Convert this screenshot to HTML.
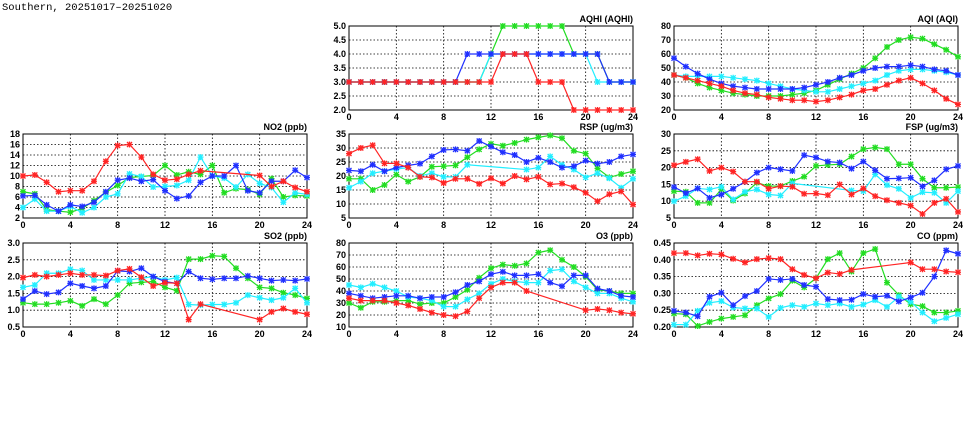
<!DOCTYPE html>
<html><head><meta charset="utf-8"><style>
html,body{margin:0;padding:0;background:#fff;width:975px;height:447px;overflow:hidden}
svg{display:block}
text{font-family:"Liberation Sans",sans-serif;font-weight:bold;font-size:9px;fill:#000}
</style></head><body>
<svg id="s" width="975" height="447" xmlns="http://www.w3.org/2000/svg">
<text x="2" y="10" style="font-family:'Liberation Mono',monospace;font-size:10.5px;font-weight:normal">Southern, 20251017–20251020</text>
</svg>
<script>
const N=null;
const C={r:"#ff2424",g:"#22dd22",c:"#22eeff",b:"#2030ff"};
const panels=[
{t:"AQHI (AQHI)",x:349,y:26,min:2,max:5,st:0.5,dec:1,d:{
g:[3,3,3,3,3,3,3,3,3,3,3,3,4,5,5,5,5,5,5,4,4,4,3,3,3],
c:[3,3,3,3,3,3,3,3,3,3,3,3,4,4,4,4,4,4,4,4,4,3,3,3,3],
b:[3,3,3,3,3,3,3,3,3,3,4,4,4,4,4,4,4,4,4,4,4,4,3,3,3],
r:[3,3,3,3,3,3,3,3,3,3,3,3,3,4,4,4,3,3,3,2,2,2,2,2,2]}},
{t:"AQI (AQI)",x:674,y:26,min:20,max:80,st:10,dec:0,d:{
g:[45,43,39,36,34,32,31,30,30,30,31,32,34,38,42,46,50,57,65,70,72,71,67,63,58],
c:[45,44,44,44,44,43,42,41,39,37,35,34,33,33,35,37,39,41,45,48,49,49,48,47,45],
b:[57,51,46,42,39,37,36,35,35,35,35,36,38,40,43,45,48,50,51,51,52,51,49,48,45],
r:[45,43,41,39,37,34,32,31,29,28,27,27,26,27,29,31,34,35,38,41,43,39,34,28,24]}},
{t:"NO2 (ppb)",x:23,y:134,min:2,max:18,st:2,dec:0,d:{
g:[7,6.6,3.6,3.3,3.1,3.8,5.3,6.9,8.2,9.7,9.9,10.1,12,10.2,10.8,10.3,12,6.8,7.6,7.4,6.5,9.5,6,6.3,6.2],
c:[4,5.6,3.3,3.3,4.2,3,4,6,6.6,10.4,9.9,7.9,8,8.2,9.2,13.6,10,9.6,7.9,10.3,8.6,7.8,5,6.8,6.5],
b:[6.2,6.3,4.5,3.3,4.5,4.2,5,7,9.2,9.6,9,9.3,7.2,5.7,6.2,8.8,10,10,12,7.2,6.8,9,9,11.1,9.7],
r:[10,10.2,8.8,7,7.2,7.2,9,12.8,15.8,16,13.6,10.3,9.2,9.4,10.3,11,N,N,N,N,10.1,8,9,7.8,7]}},
{t:"RSP (ug/m3)",x:349,y:134,min:5,max:35,st:5,dec:0,d:{
g:[19,19,15,16.8,20.5,18,19.7,23.3,23.5,23.8,26.7,29.5,31.5,30.8,31.8,33,33.8,34.5,33.5,29,28,22.7,19.5,20.7,21.7],
c:[15.8,18,21,21.7,22.5,23,20,21,19.7,19.7,24,N,N,N,N,22.3,23,27,24,22.3,19.5,21,19.2,15.8,19],
b:[22,21.7,24,21.7,23,23.8,24.4,27,29.3,29.5,29,32.5,30.5,28.5,27.5,25,26.5,25,23,23.5,25.5,24.4,25,27,27.7],
r:[28,30,31,24.5,24.5,23,19.7,19.5,17.5,19,19,17.2,19.2,17.3,20,18.8,19.7,17,17.3,16,14,11,13.5,14.5,9.8]}},
{t:"FSP (ug/m3)",x:674,y:134,min:5,max:30,st:5,dec:0,d:{
g:[13,12.8,9.5,9.5,13.5,10.2,12.3,15.5,14.5,14.5,16,17.3,20.5,20.8,21,23.3,25.5,26,25.5,21,21,16.7,14,14,14.2],
c:[10,11.5,13.8,13.5,14.3,10.5,12.8,13.5,12,11.7,15.3,N,N,N,N,13.2,13,18,14.8,13.7,11,12.7,12.5,9.5,13],
b:[14.2,12.4,13.8,11,12,13.7,15.8,18.5,20,19.5,19,23.7,23,21.8,21.5,19.7,21.8,19.2,16.7,16.8,17,14.4,16.2,19.5,20.5],
r:[20.7,21.7,22.5,19,20,18.8,15.8,15.8,13.7,14.5,14.3,12.2,12.3,11.8,15,12,13.8,11.5,10.3,9.5,8.7,6.2,9.5,10.7,6.8]}},
{t:"SO2 (ppb)",x:23,y:243,min:0.5,max:3,st:0.5,dec:1,d:{
g:[1.22,1.18,1.18,1.22,1.28,1.13,1.33,1.18,1.45,1.8,1.83,1.85,1.68,1.58,2.52,2.52,2.62,2.6,2.25,1.95,1.68,1.65,1.52,1.45,1.35],
c:[1.68,1.75,2.1,2.1,2.22,2.18,1.9,1.9,1.9,1.9,1.95,2.0,1.9,1.97,1.17,1.15,1.17,1.17,1.22,1.45,1.37,1.3,1.37,1.65,1.22],
b:[1.33,1.57,1.48,1.53,1.8,1.72,1.65,1.72,2.17,2.15,2.25,2.0,1.85,1.8,2.15,1.95,1.92,1.95,1.95,2.02,1.95,1.88,1.9,1.88,1.93],
r:[1.97,2.05,2.0,2.05,2.1,2.05,2.05,2.03,2.18,2.23,1.98,1.72,1.82,1.8,0.72,1.18,N,N,N,N,0.72,0.95,1.05,0.95,0.88]}},
{t:"O3 (ppb)",x:349,y:243,min:10,max:80,st:10,dec:0,d:{
g:[30,26,31,31,32,32,29,30,30,35,41,51,59,62,61,63,72,74,66,60,52,41,40,38,38],
c:[45,43,46,43,40,35,34,32,27,27,33,38,46,50,48,47,47,57,58,48,43,38,38,34,31],
b:[38,36,34,35,36,36,34,35,35,39,45,48,54,56,53,53,54,47,44,53,53,42,40,36,35],
r:[34,32,32,32,30,28,25,22,20,19,23,34,43,47,47,40,N,N,N,N,24,25,24,22,21]}},
{t:"CO (ppm)",x:674,y:243,min:0.2,max:0.45,st:0.05,dec:2,d:{
g:[.24,.238,.203,.215,.225,.23,.235,.265,.285,.298,.338,.318,.345,.402,.42,.365,.42,.432,.332,.295,.268,.262,.243,.243,.248],
c:[.207,.207,.248,.272,.277,.258,.255,.255,.23,.257,.265,.26,.27,.265,.27,.26,.267,.28,.26,.29,.275,.243,.217,.227,.238],
b:[.248,.243,.232,.29,.302,.265,.292,.307,.343,.34,.343,.325,.32,.283,.28,.281,.298,.29,.293,.276,.288,.302,.35,.428,.418],
r:[.42,.42,.413,.418,.416,.403,.392,.402,.405,.402,.372,.355,.345,.362,.358,.37,N,N,N,N,.392,.372,.372,.365,.363]}}
];
const W=284,H=84;let s="";
for(const p of panels){
 const X=i=>p.x+i*W/24, Y=v=>p.y+H-(v-p.min)/(p.max-p.min)*H;
 s+=`<rect x="${p.x}" y="${p.y}" width="${W}" height="${H}" fill="#fff" stroke="#000" stroke-width="1"/>`;
 const n=Math.round((p.max-p.min)/p.st);
 for(let k=0;k<=n;k++){const v=p.min+k*p.st,y=Y(v);
  if(k>0&&k<n)s+=`<line x1="${p.x}" x2="${p.x+W}" y1="${y}" y2="${y}" stroke="#000" stroke-width="0.8" stroke-dasharray="1.5,2"/>`;
  s+=`<text x="${p.x-3}" y="${y+3}" text-anchor="end">${v.toFixed(p.dec)}</text>`;}
 for(let h=0;h<=24;h+=4){const x=X(h);
  if(h>0&&h<24)s+=`<line x1="${x}" x2="${x}" y1="${p.y}" y2="${p.y+H}" stroke="#000" stroke-width="0.8" stroke-dasharray="1.5,2"/>`;
  s+=`<text x="${x}" y="${p.y+H+10}" text-anchor="middle">${h}</text>`;}
 s+=`<text x="${p.x+W}" y="${p.y-4}" text-anchor="end">${p.t}</text>`;
 for(const k of ["g","c","b","r"]){const a=p.d[k];let pts=[];
  a.forEach((v,i)=>{if(v!==null)pts.push([X(i),Y(v)]);});
  s+=`<polyline fill="none" stroke="${C[k]}" stroke-width="1.2" points="${pts.map(q=>q.join(",")).join(" ")}"/>`;
  for(const [x,y] of pts){s+=`<path d="M${x-2.5},${y-2.5}L${x+2.5},${y+2.5}M${x-2.5},${y+2.5}L${x+2.5},${y-2.5}M${x-3},${y}L${x+3},${y}M${x},${y-3}L${x},${y+3}" stroke="${C[k]}" stroke-width="1.3"/>`;}
 }
}
document.getElementById("s").insertAdjacentHTML("beforeend",s);
</script>
</body></html>
